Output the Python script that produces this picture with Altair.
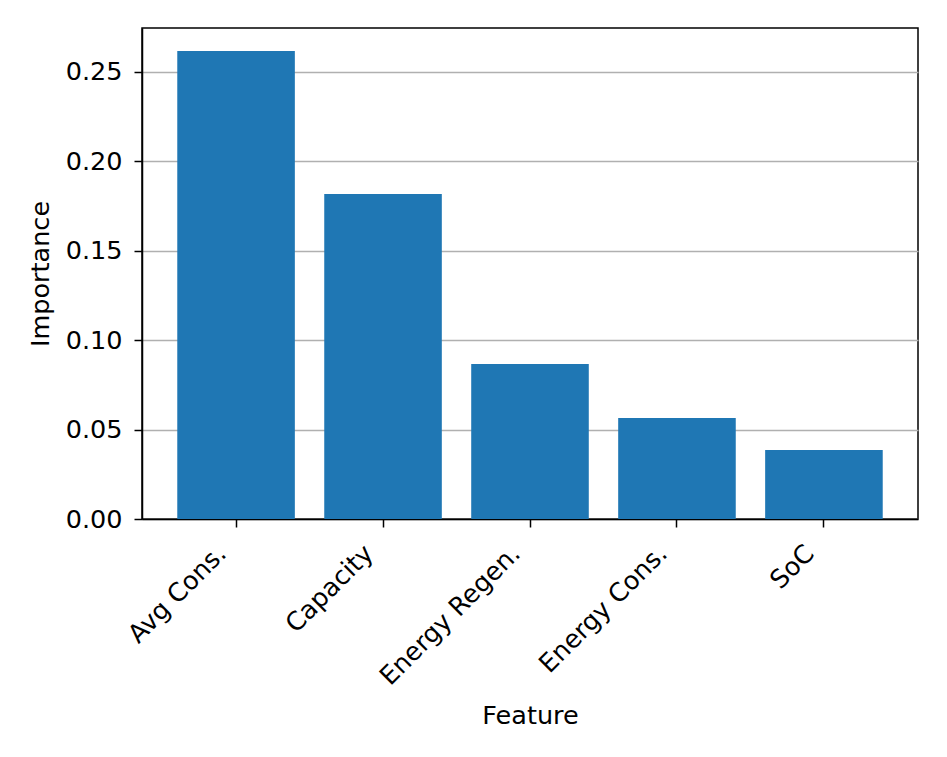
import altair as alt
import pandas as pd

features = ["Avg Cons.", "Capacity", "Energy Regen.", "Energy Cons.", "SoC"]
importance = [0.2617, 0.1818, 0.0867, 0.0565, 0.0386]

df = pd.DataFrame({"Feature": features, "Importance": importance})

FONT = "DejaVu Sans"
FS = 25.5

chart = alt.Chart(df).mark_bar(color="#1f77b4").encode(
    x=alt.X("Feature:N", sort=features,
            scale=alt.Scale(paddingInner=0.2, paddingOuter=0.24),
            axis=alt.Axis(title="Feature", labelAngle=315, labelAlign="right",
                          labelBaseline="middle", labelFontSize=FS, titleFontSize=FS,
                          titleFontWeight="normal", labelFont=FONT, titleFont=FONT,
                          labelColor="black", titleColor="black", labelLimit=500,
                          labelOffset=-14,
                          tickColor="black", tickSize=8, tickWidth=1.5,
                          domainColor="black", domainWidth=1.5,
                          labelPadding=22, titlePadding=14, grid=False)),
    y=alt.Y("Importance:Q",
            scale=alt.Scale(domain=[0, 0.2746], nice=False, zero=True),
            axis=alt.Axis(title="Importance", values=[0, 0.05, 0.1, 0.15, 0.2, 0.25],
                          format=".2f", labelFontSize=FS, titleFontSize=FS,
                          titleFontWeight="normal", labelFont=FONT, titleFont=FONT,
                          labelColor="black", titleColor="black",
                          tickColor="black", tickSize=8, tickWidth=1.5,
                          domainColor="black", domainWidth=1.5,
                          grid=True, gridColor="#b0b0b0", gridWidth=1.5,
                          labelPadding=12, titlePadding=12)),
).properties(
    width=776, height=491,
    background="white",
    autosize=alt.AutoSizeParams(type="none"),
    padding={"left": 134, "top": 20, "right": 21, "bottom": 230},
).configure_view(stroke="black", strokeWidth=1.5)

chart.save("out.html", embed_options={"renderer": "svg", "actions": False})
